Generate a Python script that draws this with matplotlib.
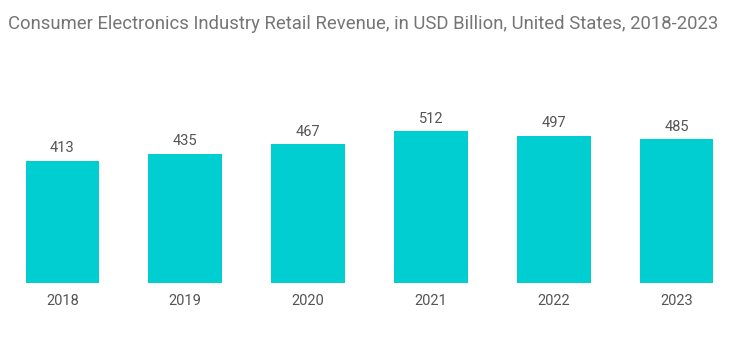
import matplotlib.pyplot as plt

years = ['2018', '2019', '2020', '2021', '2022', '2023']
revenue = [413, 435, 467, 512, 497, 485]

title = "Consumer Electronics Industry Retail Revenue, in USD Billion, United States, 2018-2023"

plt.rcParams['font.family'] = ['Roboto', 'DejaVu Sans']

fig = plt.figure(figsize=(7.43, 3.44), dpi=100)
ax = fig.add_axes([1 / 743, 61 / 344, 737 / 743, 183 / 344])

bars = ax.bar(range(len(years)), revenue, width=0.6, color='#00CED1')
ax.bar_label(bars, labels=[str(v) for v in revenue], padding=4, fontsize=10.5, color='#555555')

ax.set_xlim(-0.5, len(years) - 0.5)
ax.set_ylim(0, 617)
ax.set_xticks(range(len(years)))
ax.set_xticklabels(years, fontsize=10.5, color='#555555')
ax.tick_params(axis='x', length=0, pad=8)
ax.set_yticks([])
for s in ax.spines.values():
    s.set_visible(False)

fig.text(8 / 743, 1 - 24 / 344, title, fontsize=13.3, color='#757575', va='center', ha='left')

fig.savefig("out.png", dpi=100)
plt.close()
